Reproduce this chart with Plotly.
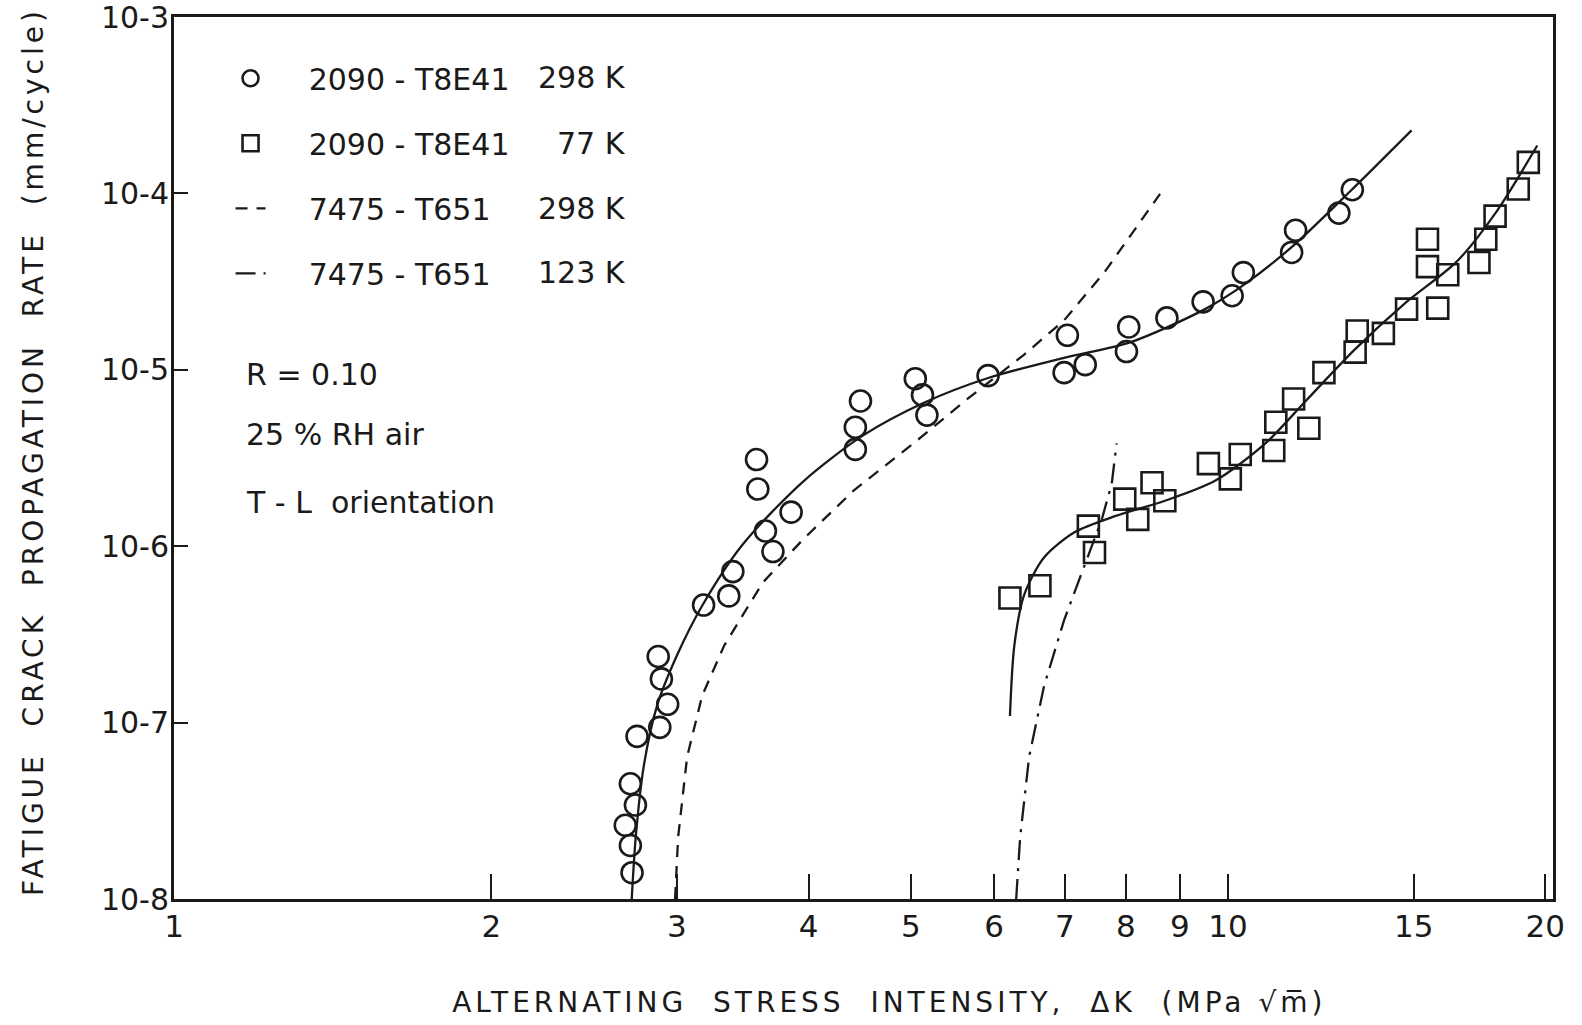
import plotly.graph_objects as go

# ---- data ----
# 2090-T8E41, 298 K (open circles)
c298_dk = [2.72, 2.71, 2.68, 2.74, 2.71, 2.75, 2.89, 2.94, 2.90, 2.88, 3.18, 3.36, 3.39,
           3.70, 3.64, 3.85, 3.58, 3.57, 4.43, 4.43, 4.48, 5.18, 5.13, 5.05, 5.92, 6.99,
           7.32, 7.04, 8.01, 8.05, 8.75, 9.47, 10.09, 10.34, 11.49, 11.59, 12.74, 13.12]
c298_rate = [1.41e-8, 2.01e-8, 2.62e-8, 3.41e-8, 4.50e-8, 8.36e-8, 9.4e-8, 1.27e-7, 1.77e-7,
             2.37e-7, 4.64e-7, 5.23e-7, 7.18e-7, 9.33e-7, 1.22e-6, 1.56e-6, 2.11e-6, 3.10e-6,
             3.54e-6, 4.73e-6, 6.66e-6, 5.54e-6, 7.21e-6, 8.91e-6, 9.27e-6, 9.64e-6, 1.07e-5,
             1.57e-5, 1.27e-5, 1.75e-5, 1.97e-5, 2.43e-5, 2.63e-5, 3.56e-5, 4.63e-5, 6.19e-5,
             7.74e-5, 1.05e-4]

# 2090-T8E41, 77 K (open squares)
s77_dk = [6.21, 6.63, 7.47, 7.37, 7.98, 8.21, 8.47, 8.71, 9.58, 10.05, 10.27, 11.05, 11.10,
          11.93, 11.54, 12.33, 13.20, 13.26, 14.04, 14.77, 15.81, 15.46, 15.46, 16.16, 17.30,
          17.56, 17.92, 18.85, 19.27]
s77_rate = [5.09e-7, 5.97e-7, 9.22e-7, 1.30e-6, 1.85e-6, 1.42e-6, 2.29e-6, 1.81e-6, 2.94e-6,
            2.41e-6, 3.31e-6, 3.49e-6, 5.05e-6, 4.67e-6, 6.84e-6, 9.64e-6, 1.26e-5, 1.66e-5,
            1.61e-5, 2.21e-5, 2.24e-5, 3.85e-5, 5.50e-5, 3.46e-5, 4.06e-5, 5.50e-5, 7.44e-5,
            1.06e-4, 1.50e-4]

# fitted curve, 2090-T8E41 298 K (solid)
fit298_dk = [2.718, 2.742, 2.79, 2.872, 3.0, 3.17, 3.462, 3.95, 4.506, 5.14, 5.93, 6.99,
             8.07, 9.51, 10.39, 11.57, 13.06, 14.93]
fit298_rate = [1.0e-8, 2.24e-8, 5.63e-8, 1.24e-7, 2.40e-7, 4.6e-7, 1.02e-6, 2.32e-6, 4.25e-6,
               6.49e-6, 9.02e-6, 1.17e-5, 1.43e-5, 2.21e-5, 3.08e-5, 5.15e-5, 1.03e-4, 2.28e-4]

# fitted curve, 2090-T8E41 77 K (solid)
fit77_dk = [6.21, 6.27, 6.406, 6.69, 7.15, 7.81, 8.71, 9.72, 10.85, 11.85, 13.2, 14.77,
            16.48, 17.99, 19.65]
fit77_rate = [1.09e-7, 2.74e-7, 5.3e-7, 8.63e-7, 1.2e-6, 1.48e-6, 1.81e-6, 2.35e-6, 3.83e-6,
              6.66e-6, 1.31e-5, 2.43e-5, 4.11e-5, 7.95e-5, 1.87e-4]

# 7475-T651, 298 K (dashed)
a298_dk = [2.988, 3.008, 3.068, 3.17, 3.327, 3.618, 3.95, 4.41, 5.03, 5.675, 6.406, 6.99,
           7.64, 8.62]
a298_rate = [1.0e-8, 2.24e-8, 6.42e-8, 1.42e-7, 2.74e-7, 6.21e-7, 1.09e-6, 2.06e-6, 3.83e-6,
             6.93e-6, 1.22e-5, 1.91e-5, 3.6e-5, 9.95e-5]

# 7475-T651, 123 K (dash-dot)
a123_dk = [6.295, 6.35, 6.476, 6.69, 6.99, 7.31, 7.59, 7.756, 7.84]
a123_rate = [1.0e-8, 2.24e-8, 6.42e-8, 1.61e-7, 3.81e-7, 7.87e-7, 1.42e-6, 2.26e-6, 3.83e-6]

x_tickvals = [1, 2, 3, 4, 5, 6, 7, 8, 9, 10, 15, 20]
x_ticktext = ["1", "2", "3", "4", "5", "6", "7", "8", "9", "10", "15", "20"]
y_tickvals = [1e-8, 1e-7, 1e-6, 1e-5, 1e-4, 1e-3]
y_ticktext = ["10-8", "10-7", "10-6", "10-5", "10-4", "10-3"]

legend_names = ["2090\u00a0-\u00a0T8E41", "2090\u00a0-\u00a0T8E41", "7475\u00a0-\u00a0T651", "7475\u00a0-\u00a0T651"]
legend_temps = ["298\u00a0K", "77\u00a0K", "298\u00a0K", "123\u00a0K"]
notes = ["R\u00a0=\u00a00.10", "25\u00a0%\u00a0RH\u00a0air", "T\u00a0-\u00a0L\u00a0\u00a0orientation"]

FONT = "DejaVu Sans, Liberation Sans, sans-serif"
INK = "#1a1a1a"
pad = "\u00a0" * 4

fig = go.Figure()

fig.add_trace(go.Scatter(x=c298_dk, y=c298_rate, mode="markers", name=pad + legend_names[0],
                         legendgroup="a",
                         marker=dict(symbol="circle-open", size=21, color=INK, line=dict(width=2.6, color=INK))))
fig.add_trace(go.Scatter(x=s77_dk, y=s77_rate, mode="markers", name=pad + legend_names[1],
                         legendgroup="b",
                         marker=dict(symbol="square-open", size=21, color=INK, line=dict(width=2.6, color=INK))))
fig.add_trace(go.Scatter(x=a298_dk, y=a298_rate, mode="lines", name=pad + legend_names[2],
                         legendgroup="c", line=dict(color=INK, width=2.3, dash="12px,9px")))
fig.add_trace(go.Scatter(x=a123_dk, y=a123_rate, mode="lines", name=pad + legend_names[3],
                         legendgroup="d", line=dict(color=INK, width=2.3, dash="20px,8px,3px,8px")))
fig.add_trace(go.Scatter(x=fit298_dk, y=fit298_rate, mode="lines", showlegend=False,
                         line=dict(color=INK, width=2.3, shape="spline", smoothing=0.8)))
fig.add_trace(go.Scatter(x=fit77_dk, y=fit77_rate, mode="lines", showlegend=False,
                         line=dict(color=INK, width=2.3, shape="spline", smoothing=0.8)))

annotations = []
legend_rows_y = [0.931, 0.857, 0.783, 0.710]
for t, yy in zip(legend_temps, legend_rows_y):
    annotations.append(dict(text=t, xref="paper", yref="paper", x=0.329, y=yy,
                            xanchor="right", yanchor="middle", showarrow=False,
                            font=dict(family=FONT, size=30, color=INK)))
for t, yy in zip(notes, [0.595, 0.527, 0.450]):
    annotations.append(dict(text=t, xref="paper", yref="paper", x=0.051, y=yy,
                            xanchor="left", yanchor="middle", showarrow=False,
                            font=dict(family=FONT, size=30, color=INK)))

fig.update_layout(
    width=1582, height=1025,
    margin=dict(l=174, r=29, t=17, b=126, autoexpand=False),
    paper_bgcolor="white", plot_bgcolor="white",
    font=dict(family=FONT, color=INK),
    showlegend=True,
    legend=dict(x=0.041, y=0.960, xanchor="left", yanchor="top",
                bgcolor="rgba(0,0,0,0)", borderwidth=0,
                font=dict(family=FONT, size=30, color=INK),
                tracegroupgap=23, itemwidth=30),
    annotations=annotations,
)

NB = "\u00a0"
xtitle = ("<span style='letter-spacing:4px'>" + NB * 4 + "ALTERNATING" + NB * 2 + "STRESS" + NB * 2
          + "INTENSITY," + NB * 2 + "\u0394K" + NB * 2 + "(MPa" + NB + "\u221am\u0305)</span>")
ytitle = ("<span style='letter-spacing:4px'>" + NB + "FATIGUE" + NB * 2 + "CRACK" + NB * 2 + "PROPAGATION"
          + NB * 2 + "RATE" + NB * 2 + "(mm/cycle)</span>")

fig.update_xaxes(type="log", range=[0, 1.3083], automargin=False,
                 tickvals=x_tickvals, ticktext=x_ticktext,
                 ticks="inside", ticklen=25, tickwidth=2.3, tickcolor=INK,
                 showline=True, linewidth=3, linecolor=INK, mirror=True,
                 showgrid=False, zeroline=False,
                 tickfont=dict(family=FONT, size=31, color=INK),
                 ticklabelstandoff=-2, ticklabeloverflow="allow",
                 title=dict(text=xtitle, font=dict(family=FONT, size=28, color=INK), standoff=50))
fig.update_yaxes(type="log", range=[-8, -2.9995], automargin=False,
                 tickvals=y_tickvals, ticktext=y_ticktext,
                 ticks="inside", ticklen=14, tickwidth=2.3, tickcolor=INK,
                 showline=True, linewidth=3, linecolor=INK, mirror=True,
                 showgrid=False, zeroline=False,
                 tickfont=dict(family=FONT, size=30, color=INK),
                 ticklabelstandoff=-4, ticklabeloverflow="allow",
                 title=dict(text=ytitle, font=dict(family=FONT, size=28, color=INK), standoff=50))

fig.write_html("out.html")
